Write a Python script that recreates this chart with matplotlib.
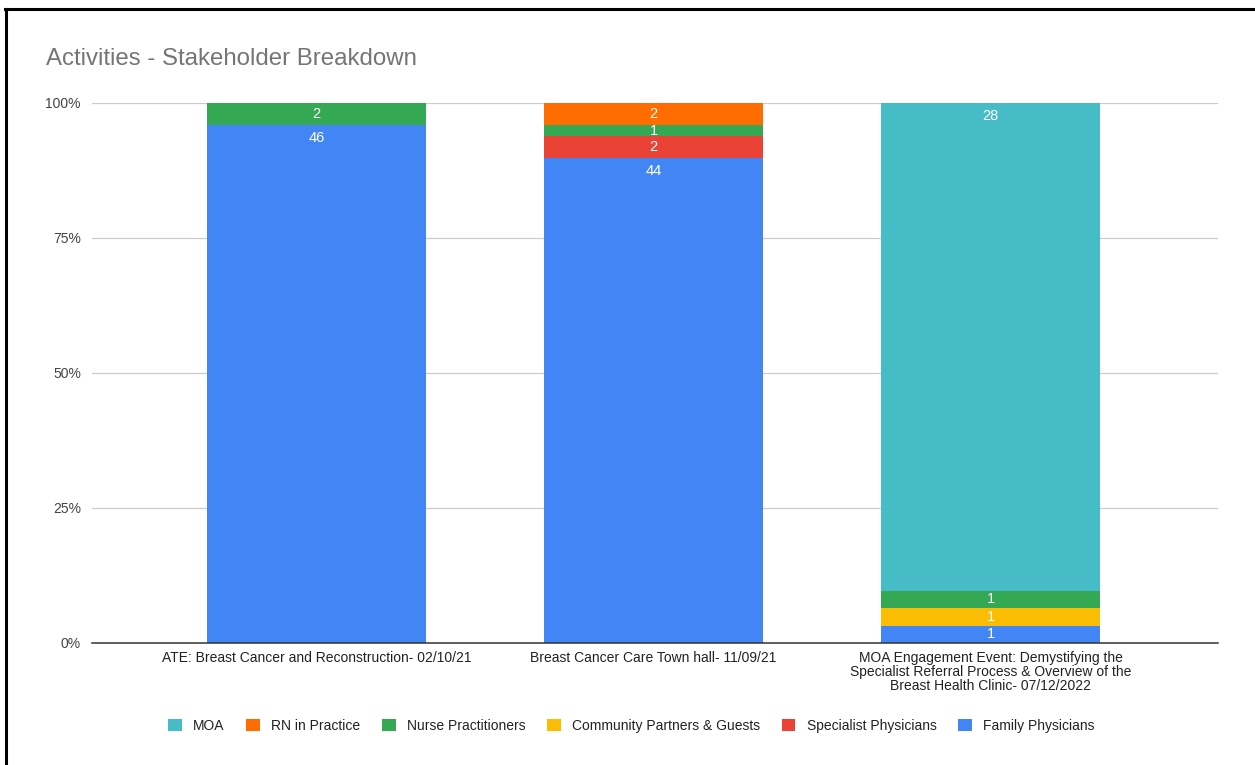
import numpy as np
import matplotlib.pyplot as plt
from matplotlib.lines import Line2D
from matplotlib.patches import Patch

plt.rcParams['font.family'] = ['Liberation Sans', 'DejaVu Sans']

# =====================================================
# Data
# =====================================================

categories = [
    'ATE: Breast Cancer and Reconstruction- 02/10/21',
    'Breast Cancer Care Town hall- 11/09/21',
    'MOA Engagement Event: Demystifying the\nSpecialist Referral Process & Overview of the\nBreast Health Clinic- 07/12/2022',
]

# stacked bottom -> top
series_names = [
    'Family Physicians',
    'Specialist Physicians',
    'Community Partners & Guests',
    'Nurse Practitioners',
    'RN in Practice',
    'MOA',
]
family_physicians = [46, 44, 1]
specialist_physicians = [0, 2, 0]
community_partners = [0, 0, 1]
nurse_practitioners = [2, 1, 1]
rn_in_practice = [0, 2, 0]
moa = [0, 0, 28]

colors = ['#4285F4', '#EA4335', '#FBBC04', '#34A853', '#FF6D01', '#46BDC6']

# =====================================================
# Plot
# =====================================================

values = np.array([family_physicians, specialist_physicians, community_partners,
                   nurse_practitioners, rn_in_practice, moa], dtype=float)
totals = values.sum(axis=0)
pct = values / totals * 100

fig = plt.figure(figsize=(12.55, 7.65), dpi=100)
ax = fig.add_axes([0.0733, 0.1595, 0.8972, 0.7059])

x = np.arange(len(categories))
bottom = np.zeros(len(categories))
label_pad = 2.4  # in percent units, ~13px

for name, vals, p, c in zip(series_names, values, pct, colors):
    ax.bar(x, p, bottom=bottom, width=0.65, color=c, label=name, zorder=2)
    for i in range(len(x)):
        if vals[i] > 0:
            top = bottom[i] + p[i]
            y = top - min(p[i] / 2, label_pad)
            ax.text(x[i], y, f'{int(vals[i])}', ha='center', va='center',
                    color='white', fontsize=10.5, zorder=3)
    bottom += p

ax.set_xlim(-0.666, 2.675)
ax.set_ylim(0, 100)
ax.set_yticks([0, 25, 50, 75, 100])
ax.set_yticklabels(['0%', '25%', '50%', '75%', '100%'])
ax.set_xticks(x)
ax.set_xticklabels(categories, fontsize=10, color='#222222', linespacing=1.0)
ax.tick_params(axis='y', length=0, pad=8, labelsize=10, labelcolor='#444444')
ax.tick_params(axis='x', length=0, pad=6)

ax.grid(axis='y', color='#cccccc', linewidth=0.9, zorder=0)
for s in ['top', 'right', 'left']:
    ax.spines[s].set_visible(False)
ax.spines['bottom'].set_color('#333333')
ax.spines['bottom'].set_linewidth(1.1)
ax.spines['bottom'].set_zorder(4)

fig.text(46 / 1255, 1 - 59 / 765, 'Activities - Stakeholder Breakdown',
         fontsize=17.3, color='#757575', ha='left', va='center')

# legend order: top of stack first
handles = [Patch(facecolor=c, edgecolor='none') for c in colors[::-1]]
fig.legend(handles, series_names[::-1], loc='center', bbox_to_anchor=(0.503, 1 - 726 / 765),
           ncol=6, frameon=False, fontsize=10, handlelength=1.0, handleheight=1.0,
           handletextpad=0.8, columnspacing=1.55, labelcolor='#222222')

# frame lines
fig.add_artist(Line2D([5 / 1255, 1], [1 - 9 / 765, 1 - 9 / 765], color='black', linewidth=2.2,
                      transform=fig.transFigure))
fig.add_artist(Line2D([6 / 1255, 6 / 1255], [0, 1 - 9 / 765], color='black', linewidth=2.2,
                      transform=fig.transFigure))

fig.savefig('out.png', dpi=100)
